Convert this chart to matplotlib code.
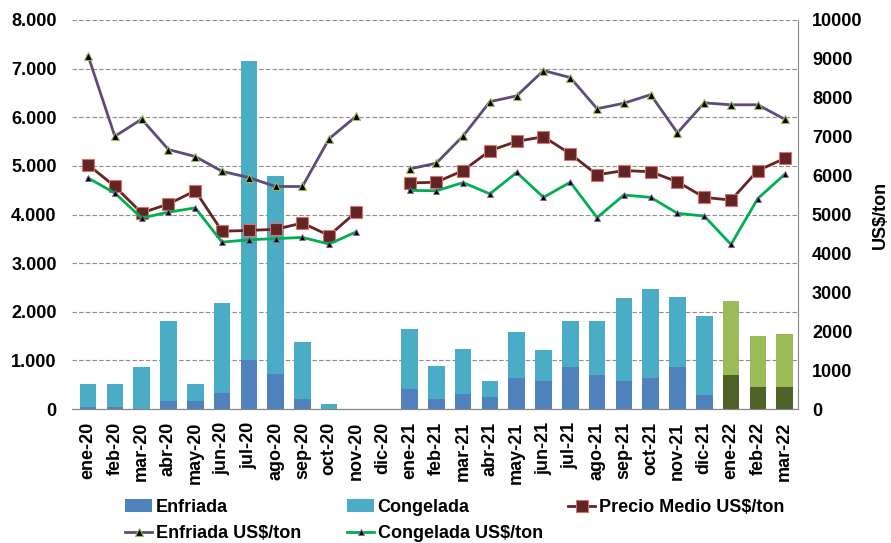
import matplotlib
matplotlib.use("Agg")
import matplotlib.pyplot as plt
import numpy as np

plt.rcParams['font.family'] = ['Liberation Sans', 'DejaVu Sans']
plt.rcParams['font.weight'] = 'bold'

meses = ['ene-20', 'feb-20', 'mar-20', 'abr-20', 'may-20', 'jun-20', 'jul-20',
         'ago-20', 'sep-20', 'oct-20', 'nov-20', 'dic-20', 'ene-21', 'feb-21',
         'mar-21', 'abr-21', 'may-21', 'jun-21', 'jul-21', 'ago-21', 'sep-21',
         'oct-21', 'nov-21', 'dic-21', 'ene-22', 'feb-22', 'mar-22']

# toneladas
enfriada = [48, 48, 5, 172, 172, 338, 1014, 724, 214, 0, 0, 0, 420, 214,
            317, 255, 628, 586, 855, 703, 586, 628, 855, 297, 690, 448, 448]
total = [520, 520, 855, 1800, 520, 2186, 7160, 4790, 1386, 110, 0, 0, 1655, 890,
         1240, 586, 1593, 1207, 1820, 1820, 2276, 2462, 2297, 1903, 2214, 1497, 1538]
congelada = [t - e for t, e in zip(total, enfriada)]

# US$/ton
precio_medio = [6280, 5720, 5040, 5270, 5610, 4570, 4590, 4620, 4780, 4460, 5060, np.nan,
                5810, 5830, 6130, 6640, 6880, 7000, 6560, 6020, 6130, 6100, 5840, 5440,
                5370, 6130, 6440]
enfriada_precio = [9080, 7010, 7450, 6670, 6490, 6110, 5950, 5720, 5720, 6950, 7520, np.nan,
                   6170, 6320, 7020, 7900, 8050, 8700, 8520, 7720, 7860, 8080, 7100, 7870,
                   7820, 7820, 7450]
congelada_precio = [5940, 5550, 4910, 5060, 5170, 4290, 4350, 4380, 4410, 4240, 4550, np.nan,
                    5620, 5610, 5820, 5530, 6080, 5440, 5830, 4920, 5500, 5440, 5030, 4960,
                    4230, 5410, 6030]

x = np.arange(len(meses))
n_2022 = 3
col_enf = ['#4F81BD'] * (len(meses) - n_2022) + ['#4F6228'] * n_2022
col_con = ['#4BACC6'] * (len(meses) - n_2022) + ['#9BBB59'] * n_2022

fig = plt.figure(figsize=(8.91, 5.43), dpi=100)
ax = fig.add_axes([72 / 891, 1 - 409 / 543, 726 / 891, 389 / 543])
ax2 = ax.twinx()

b1 = ax.bar(x, enfriada, 0.62, color=col_enf, label='Enfriada', zorder=2)
b2 = ax.bar(x, congelada, 0.62, bottom=enfriada, color=col_con, label='Congelada', zorder=2)

l3, = ax2.plot(x, precio_medio, color='#632523', lw=2, marker='s', ms=8,
               mfc='#632523', mec='#D9716E', mew=0.8, label='Precio Medio US$/ton')
l1, = ax2.plot(x, enfriada_precio, color='#604A7B', lw=2, marker='^', ms=6,
               mfc='black', mec='#9BBB59', mew=0.8, label='Enfriada US$/ton')
l2, = ax2.plot(x, congelada_precio, color='#00B050', lw=2, marker='^', ms=5,
               mfc='black', mec='#8064A2', mew=0.6, label='Congelada US$/ton')

ax.set_xlim(-0.6, 26.5)
ax.set_ylim(0, 8000)
ax.set_yticks(np.arange(0, 8001, 1000))
ax.set_yticklabels(['0'] + [f'{v // 1000}.000' for v in range(1000, 8001, 1000)])
ax2.set_ylim(0, 10000)
ax2.set_yticks(np.arange(0, 10001, 1000))

ax.yaxis.grid(True, color='#8C8C8C', ls=(0, (4, 2)), lw=0.8, zorder=0)
ax.set_axisbelow(True)
ax.set_xticks(x)
ax.set_xticklabels(meses, rotation=90)

for a in (ax, ax2):
    a.spines['top'].set_visible(False)
    a.spines['left'].set_visible(False)
    a.spines['right'].set_visible(False)
    a.spines['bottom'].set_color('#868686')
ax2.spines['right'].set_visible(True)
ax2.spines['right'].set_color('#868686')

ax.tick_params(axis='both', length=0, labelsize=13)
ax.tick_params(axis='y', pad=11)
ax.tick_params(axis='x', pad=9)
ax2.tick_params(axis='y', length=0, labelsize=13, pad=10)
ax2.set_ylabel('US$/ton', fontsize=13, fontweight='bold')
ax2.yaxis.set_label_coords((872 - 72) / 726, 0.5)

leg_kw = dict(loc='upper left', frameon=False, fontsize=13, handlelength=1.5,
              handletextpad=0.2, labelspacing=0.5, borderaxespad=0, borderpad=0)
y_leg = 1 - 499 / 543
fig.legend(handles=[b1, l1], bbox_to_anchor=(125 / 891, y_leg), **leg_kw)
fig.legend(handles=[b2, l2], bbox_to_anchor=(347 / 891, y_leg), **leg_kw)
fig.legend(handles=[l3], bbox_to_anchor=(568 / 891, y_leg), **leg_kw)

fig.savefig('out.png', dpi=100)
